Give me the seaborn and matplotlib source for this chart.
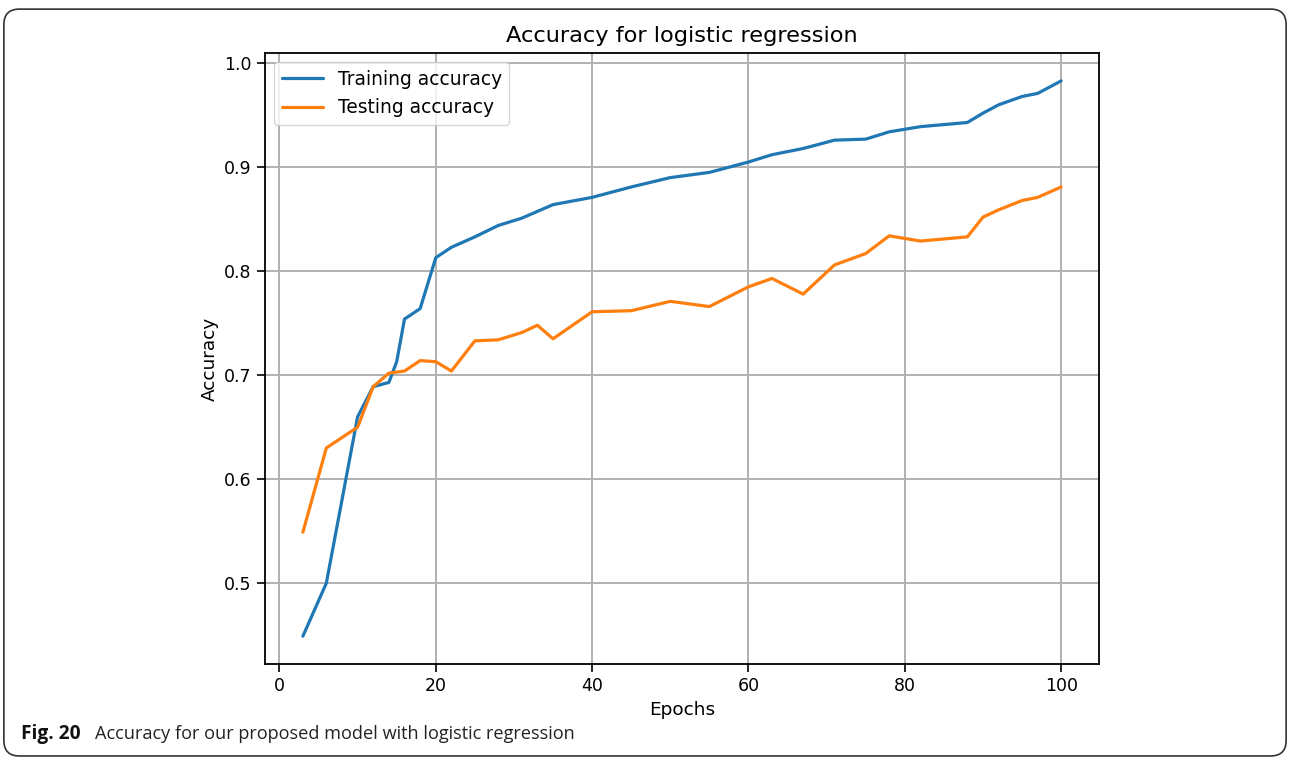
import numpy as np
import pandas as pd
import matplotlib
matplotlib.use("Agg")
import matplotlib.pyplot as plt
import seaborn as sns
from matplotlib.patches import FancyBboxPatch

# Values
train_epochs = [3, 6, 10, 12, 14, 15, 16, 18, 20, 22, 25, 28, 31, 35, 40, 45, 50, 55,
                60, 63, 67, 71, 75, 78, 82, 88, 90, 92, 95, 97, 100]
train_acc = [0.449, 0.500, 0.660, 0.689, 0.693, 0.713, 0.754, 0.764, 0.813, 0.823,
             0.833, 0.844, 0.851, 0.864, 0.871, 0.881, 0.890, 0.895, 0.905, 0.912,
             0.918, 0.926, 0.927, 0.934, 0.939, 0.943, 0.952, 0.960, 0.968, 0.971, 0.983]

test_epochs = [3, 6, 10, 12, 14, 16, 18, 20, 22, 25, 28, 31, 33, 35, 40, 45, 50, 55,
               60, 63, 67, 71, 75, 78, 82, 88, 90, 92, 95, 97, 100]
test_acc = [0.549, 0.630, 0.650, 0.689, 0.702, 0.704, 0.714, 0.713, 0.704, 0.733,
            0.734, 0.741, 0.748, 0.735, 0.761, 0.762, 0.771, 0.766, 0.785, 0.793,
            0.778, 0.806, 0.817, 0.834, 0.829, 0.833, 0.852, 0.859, 0.868, 0.871, 0.881]

train_df = pd.DataFrame({"Epochs": train_epochs, "Accuracy": train_acc})
test_df = pd.DataFrame({"Epochs": test_epochs, "Accuracy": test_acc})

sns.set_style("ticks")
plt.rcParams['font.family'] = ['DejaVu Sans']
plt.rcParams['text.color'] = 'black'
plt.rcParams['axes.labelcolor'] = 'black'

fig = plt.figure(figsize=(12.9, 7.59), dpi=100)
ax = fig.add_axes([0.2054, 0.1252, 0.6466, 0.8048])

sns.lineplot(data=train_df, x="Epochs", y="Accuracy", ax=ax, color="#1f77b4",
             linewidth=2.3, label="Training accuracy")
sns.lineplot(data=test_df, x="Epochs", y="Accuracy", ax=ax, color="#ff7f0e",
             linewidth=2.3, label="Testing accuracy")

ax.set_xticks([0, 20, 40, 60, 80, 100])
ax.set_yticks([0.5, 0.6, 0.7, 0.8, 0.9, 1.0])
ax.grid(True, color="#b0b0b0", linewidth=1.4)
for s in ax.spines.values():
    s.set_visible(True)
    s.set_color("black")
    s.set_linewidth(1.3)
ax.tick_params(labelsize=12.5, length=6, width=1.2, colors="black")
ax.set_xlabel("Epochs", fontsize=13.3)
ax.set_ylabel("Accuracy", fontsize=13.3)
ax.set_title("Accuracy for logistic regression", fontsize=16.2, pad=8)
leg = ax.legend(loc="upper left", fontsize=13.4, handlelength=2.2)
for t in leg.get_texts():
    t.set_color("black")

# journal frame and caption
frame = FancyBboxPatch((0.003, 0.004), 0.994, 0.984, boxstyle="round,pad=0,rounding_size=0.012",
                       transform=fig.transFigure, fill=False, edgecolor="#333333",
                       linewidth=1.2, mutation_aspect=1290 / 759)
fig.patches.append(frame)
fig.text(0.0165, 0.026, "Fig. 20", fontsize=13.8, fontweight="bold", family="Open Sans",
         va="baseline", color="#111111")
fig.text(0.0736, 0.026, "Accuracy for our proposed model with logistic regression",
         fontsize=13.1, family="Open Sans", va="baseline", color="#222222")

fig.savefig("out.png", dpi=100)
